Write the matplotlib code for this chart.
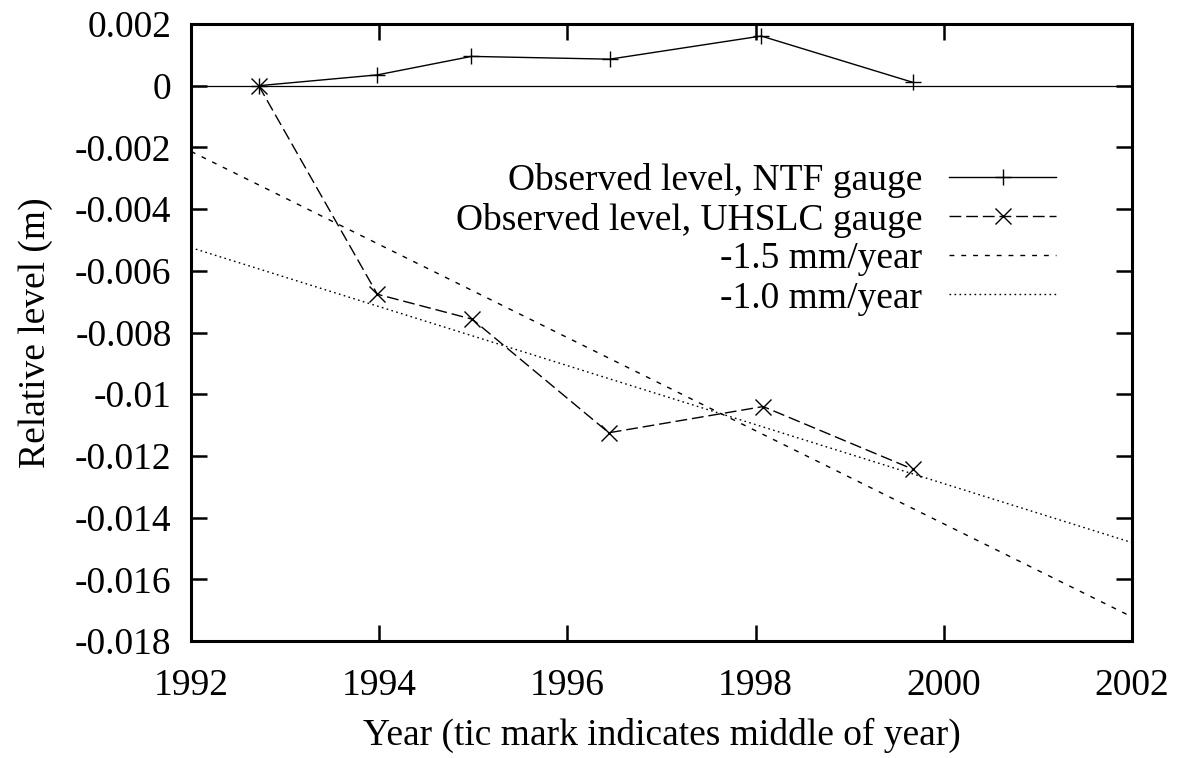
import matplotlib
matplotlib.use('Agg')
import matplotlib.pyplot as plt
import numpy as np

plt.rcParams['font.family'] = ['Liberation Serif', 'DejaVu Serif']
plt.rcParams['font.size'] = 27

# --- Gauge observations (relative level, m) ---
years_ntf = [1992.72, 1993.98, 1994.98, 1996.45, 1998.06, 1999.67]
level_ntf = [0.0, 0.00035, 0.00095, 0.00086, 0.00161, 0.00011]

years_uhslc = [1992.72, 1993.98, 1994.99, 1996.44, 1998.08, 1999.67]
level_uhslc = [0.0, -0.00676, -0.00757, -0.01125, -0.0104, -0.01243]

# reference trends, end points over the plotted span
trend_years = [1992, 2002]
trend_15 = [-0.00213, -0.01722]
trend_10 = [-0.00525, -0.01481]

xticks = [1992, 1994, 1996, 1998, 2000, 2002]
yticks = [0.002, 0, -0.002, -0.004, -0.006, -0.008, -0.01,
          -0.012, -0.014, -0.016, -0.018]

fig = plt.figure(figsize=(11.82, 7.58), dpi=100)
ax = fig.add_axes([191/1182, 1 - 641/758, (1132-191)/1182, (641-24)/758])

ax.axhline(0, color='black', lw=0.9)

ax.plot(years_ntf, level_ntf, color='black', lw=1.0, marker='+',
        markersize=12, markeredgewidth=1.0, label='Observed level, NTF gauge')
ax.plot(years_uhslc, level_uhslc, color='black', lw=1.0, marker='x',
        markersize=11, markeredgewidth=1.0, dashes=(8.5, 3.5),
        label='Observed level, UHSLC gauge')
ax.plot(trend_years, trend_15, color='black', lw=1.0, dashes=(3.5, 5),
        label='-1.5 mm/year')
ax.plot(trend_years, trend_10, color='black', lw=1.0, dashes=(1.2, 2.4),
        label='-1.0 mm/year')

ax.set_xlim(1992, 2002)
ax.set_ylim(-0.018, 0.002)
ax.set_xticks(xticks)
ax.set_xticklabels([str(t) for t in xticks])
ax.set_yticks(yticks)
ax.set_yticklabels([f'{round(v, 3):g}' for v in yticks])

ax.tick_params(direction='in', length=11.5, width=1.8, top=True, right=True)
ax.tick_params(axis='y', pad=14)
ax.tick_params(axis='x', pad=20)
for s in ax.spines.values():
    s.set_linewidth(2.2)

ax.set_xlabel('Year (tic mark indicates middle of year)')
ax.set_ylabel('Relative level (m)')
ax.xaxis.set_label_coords(0.5, -0.125)
ax.yaxis.set_label_coords(-0.147, 0.5)

ax.legend(loc='upper right', bbox_to_anchor=(1056/1182, 1 - 163/758),
          bbox_transform=fig.transFigure, frameon=False, markerfirst=False,
          handlelength=2.85, handletextpad=0.72, labelspacing=0.12,
          borderpad=0, borderaxespad=0, fontsize=27)

fig.savefig('out.png', dpi=100)
